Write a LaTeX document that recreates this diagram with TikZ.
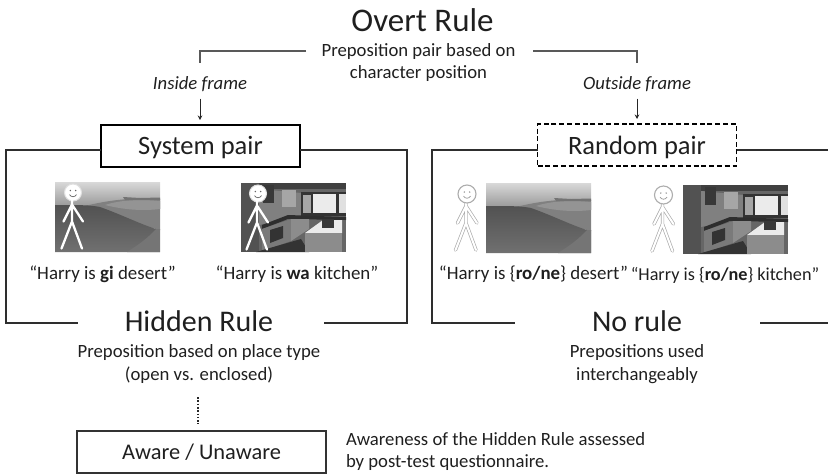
\documentclass[tikz,border=0pt]{standalone}
\usepackage{fontspec}
\setmainfont{Carlito}
\usetikzlibrary{arrows.meta}
\definecolor{ink}{gray}{0.12}
\tikzset{
  x=1pt,y=-1pt,
  every node/.style={text=ink,inner sep=0pt,outer sep=0pt},
  rule/.style={line width=1.2pt,draw=black!82},
  upper/.style={line width=1.2pt,draw=black!65},
  arr/.style={line width=1pt,draw=black!85,-{Stealth[length=4.5pt,width=4.5pt]}},
  title/.style={font=\fontsize{33}{38}\selectfont},
  head2/.style={font=\fontsize{30}{35}\selectfont},
  boxlabel/.style={font=\fontsize{26.5}{31}\selectfont},
  desc/.style={font=\fontsize{18.7}{22.5}\selectfont,align=center},
  sentence/.style={font=\fontsize{18.9}{22}\selectfont},
  frametag/.style={font=\fontsize{18.7}{22}\selectfont\itshape},
  pairbox/.style={minimum width=199pt,minimum height=42pt},
  photodesert/.pic={
    \begin{scope}
      \clip (0,0) rectangle (105,70);
      \shade[top color=black!15,bottom color=black!42] (0,0) rectangle (105,26);
      \fill[black!50] (30,24) .. controls (50,19) and (75,15) .. (105,17) -- (105,48) -- (30,30) -- cycle;
      \fill[black!42] (50,23) .. controls (65,18) and (85,17) .. (105,19) -- (105,27) .. controls (88,29) and (70,28) .. (50,23) -- cycle;
      \fill[black!55] (68,15) -- (85,16) -- (105,15.5) -- (105,18) -- (70,18) -- cycle;
      \shade[top color=black!68,bottom color=black!56] (0,23) .. controls (25,23) and (35,23) .. (45,25) .. controls (65,32) and (85,42) .. (101,47) -- (105,47) -- (105,70) -- (0,70) -- cycle;
      \fill[black!54] (101,47) -- (105,47) -- (105,70) -- (72,70) .. controls (85,62) and (95,54) .. (101,47) -- cycle;
    \end{scope}
  },
  photokitchen/.pic={
    \begin{scope}
      \clip (0,0) rectangle (105,69);
      \fill[black!60] (0,0) rectangle (105,69);
      \fill[black!75] (0,0) rectangle (105,6);
      \fill[black!68] (0,0) rectangle (18,69);
      \fill[black!50] (18,6) -- (60,10) -- (60,34) -- (18,42) -- cycle;
      \fill[black!78] (22,2) rectangle (33,20);
      \fill[black!35] (41,7) rectangle (55,24);
      \fill[black!80] (60,9) rectangle (105,33);
      \fill[black!8] (72,11) rectangle (95,30);
      \fill[black!35] (62,12) rectangle (70,30);
      \fill[black!12] (98,11) rectangle (105,30);
      \fill[black!82] (21,42) -- (47,32) -- (105,34) -- (105,37) -- (47,36) -- (21,46) -- cycle;
      \fill[black!52] (21,46) -- (50,36) -- (50,58) -- (21,68) -- cycle;
      \fill[black!45] (50,36) -- (68,36) -- (68,46) -- (50,58) -- cycle;
      \fill[black!80] (29,47) -- (42,43) -- (42,55) -- (29,60) -- cycle;
      \fill[black!80] (15,69) -- (60,56) -- (68,69) -- cycle;
      \fill[black!8] (64,50) -- (82,37) -- (101,37) -- (101,50) -- cycle;
      \fill[black!45] (64,50) rectangle (101,69);
      \fill[black!78] (81,36) rectangle (93,45);
    \end{scope}
  },
  stickwhite/.pic={
    \draw[black!12,line width=1pt,fill=white] (0,0) circle[radius=8.5];
    \draw[white,line width=2.3pt,line cap=round,line join=round]
      (-1,8) -- (-1,29) (-1,12) -- (-9.5,29) (-1,12) -- (10,29) (-1,29) -- (-11.5,56) (-1,29) -- (9,56);
    \fill[black!60] (-2.7,-2) circle[radius=.8] (2.7,-2) circle[radius=.8];
    \draw[black!60,line width=.7pt] (-3.5,2) .. controls (-1.5,5) and (1.5,5) .. (3.5,2);
  },
  stickghost/.pic={
    \draw[black!32,line width=3.4pt,line cap=round,line join=round]
      (-1,8) -- (-1,29) (-1,12) -- (-9.5,29) (-1,12) -- (10,29) (-1,29) -- (-11.5,56) (-1,29) -- (9,56);
    \draw[white,line width=2pt,line cap=round,line join=round]
      (-1,8) -- (-1,29) (-1,12) -- (-9.5,29) (-1,12) -- (10,29) (-1,29) -- (-11.5,56) (-1,29) -- (9,56);
    \draw[black!32,line width=1.1pt,fill=white] (0,0) circle[radius=9];
    \fill[black!40] (-2.7,-2) circle[radius=.8] (2.7,-2) circle[radius=.8];
    \draw[black!40,line width=.7pt] (-3.5,2) .. controls (-1.5,5) and (1.5,5) .. (3.5,2);
  }
}
\begin{document}
\begin{tikzpicture}
\useasboundingbox (0,0) rectangle (828,475);
% texts
\node[title] (overt) at (422.5,20) {Overt Rule};
\node[desc] (basis) at (418.5,62.5) {Preposition pair based on\\character position};
\node[frametag] (inside) at (200,84) {Inside frame};
\node[frametag] (outside) at (637,84) {Outside frame};
\node[draw=black,line width=1.9pt,fill=white,pairbox,boxlabel] (sys) at (200.5,146) {\raisebox{-8pt}[0pt][0pt]{System pair}};
\node[draw=black,line width=1.7pt,dash pattern=on 5pt off 2.8pt,fill=white,pairbox,boxlabel] (rnd) at (637,145) {\raisebox{-9pt}[0pt][0pt]{Random pair}};
\node[head2] (hidden) at (199,321.5) {Hidden Rule};
\node[head2] (norule) at (637,321.5) {No rule};
\node[desc] (hiddendesc) at (199,364) {Preposition based on place type\\(open vs. enclosed)};
\node[desc] (noruledesc) at (637,364) {Prepositions used\\interchangeably};
\node[draw=black!80,line width=1.1pt,minimum width=249pt,minimum height=42pt,font=\fontsize{22.4}{26}\selectfont] (aware) at (201.5,452) {Aware / Unaware};
\node[desc,align=left,anchor=west] (awaredesc) at (346,451.5) {Awareness of the Hidden Rule assessed\\by post-test questionnaire.};
\node[sentence] (s1) at (102.5,274) {“Harry is \textbf{gi} desert”};
\node[sentence] (s2) at (297,274) {“Harry is \textbf{wa} kitchen”};
\node[sentence] (s3) at (533.5,274) {“Harry is \{\textbf{ro/ne}\} desert”};
\node[sentence,font=\fontsize{18.2}{22}\selectfont] (s4) at (725,275) {“Harry is \{\textbf{ro/ne}\} kitchen”};
% photographs and figures
\pic at (55,182) {photodesert};
\pic at (241,183) {photokitchen};
\pic at (486,183) {photodesert};
\pic at (683,185) {photokitchen};
\pic at (73,192.5) {stickwhite};
\pic at (258,193.5) {stickwhite};
\pic at (467,194) {stickghost};
\pic at (663.5,195) {stickghost};
% connectors
\coordinate (tl) at (306,51);
\coordinate (tlc) at (200,51);
\coordinate (tle) at (200,63);
\coordinate (tr) at (533,51);
\coordinate (trc) at (637,51);
\coordinate (tre) at (637,63);
\draw[upper] (tl) -- (tlc) -- (tle);
\draw[upper] (tr) -- (trc) -- (tre);
\draw[arr,shorten <=7pt,shorten >=5pt] (inside.south) -- (inside.south |- sys.north);
\draw[arr,shorten <=7pt,shorten >=5pt] (outside.south) -- (outside.south |- rnd.north);
\coordinate (f1a) at (6,150);
\coordinate (f1b) at (6,323);
\coordinate (f1c) at (78,323);
\coordinate (f1d) at (407,150);
\coordinate (f1e) at (407,323);
\coordinate (f1f) at (324,323);
\draw[rule] (sys.west |- f1a) -- (f1a) -- (f1b) -- (f1c);
\draw[rule] (sys.east |- f1d) -- (f1d) -- (f1e) -- (f1f);
\coordinate (f2a) at (432,150);
\coordinate (f2b) at (432,323);
\coordinate (f2c) at (515,323);
\coordinate (f2d) at (828,150);
\coordinate (f2e) at (760,323);
\coordinate (f2f) at (828,323);
\draw[rule] (rnd.west |- f2a) -- (f2a) -- (f2b) -- (f2c);
\draw[rule] (rnd.east |- f2d) -- (f2d);
\draw[rule] (f2e) -- (f2f);
\coordinate (dots) at (198,397);
\draw[line width=1.6pt,black!85,dash pattern=on 1.6pt off 1.7pt,shorten >=7pt] (dots) -- (dots |- aware.north);
\end{tikzpicture}
\end{document}
